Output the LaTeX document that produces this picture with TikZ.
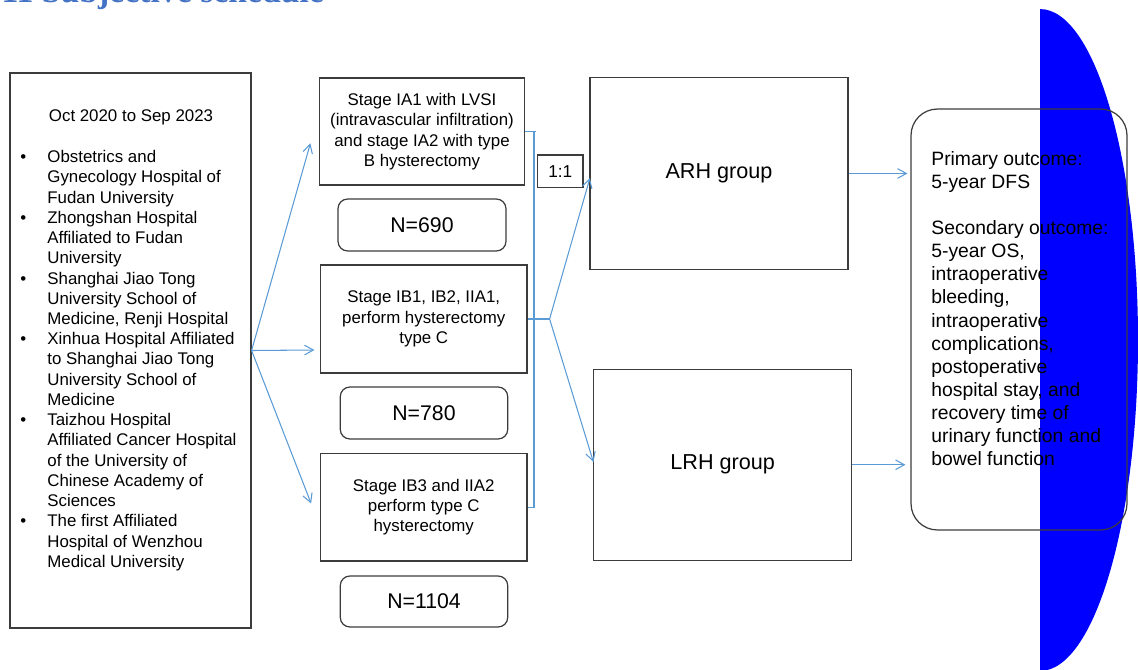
\documentclass[tikz,border=0pt]{standalone}
\usepackage{fontspec}
\setmainfont{Liberation Sans}
\newfontfamily\titlefont{Liberation Serif}
\usetikzlibrary{arrows.meta,calc}
\definecolor{arrblue}{RGB}{91,155,213}
\definecolor{boxgray}{RGB}{60,60,60}
\definecolor{titleblue}{RGB}{68,114,196}
\definecolor{pureblue}{RGB}{0,0,255}
\newcommand\mybul{\makebox[15.4pt][l]{\textbullet}}
\newcommand\myind{\hspace*{15.4pt}}
\begin{document}
\begin{tikzpicture}[x=0.02cm,y=-0.02cm,
  box/.style={draw=boxgray,line width=0.7pt,inner sep=0pt,align=center},
  stagebox/.style={box,font=\fontsize{9.6}{11.55}\selectfont},
  nbox/.style={box,rounded corners=5.5pt,font=\fontsize{12.1}{14}\selectfont},
  grpbox/.style={box,font=\fontsize{12.3}{14}\selectfont},
  bodytext/.style={inner sep=0pt,align=left,font=\fontsize{9.6}{11.52}\selectfont},
  arr/.style={draw=arrblue,line width=0.6pt,-{Straight Barb[length=5pt,width=5.5pt]}},
  link/.style={draw=arrblue,line width=0.6pt}]
\useasboundingbox (0,0) rectangle (1138,669);

% blue half ellipse at the right
\begin{scope}
  \clip (1040,0) rectangle (1138,669);
  \fill[pureblue] (1040,340) ellipse [x radius=1.96cm, y radius=6.62cm];
\end{scope}

% cut-off heading
\node[anchor=base west,inner sep=0pt,text=titleblue,
      font=\titlefont\bfseries\fontsize{19.2}{22}\selectfont] (title) at (-24,2.5) {3.11 Subjective schedule};

% left box with sites
\node[box,minimum width=4.82cm,minimum height=11.1cm] (sites) at (130.5,350.5) {};
\node[bodytext,anchor=base] (period) at (131,121) {Oct 2020 to Sep 2023};
\node[bodytext,anchor=north west] (list) at (20,150) {%
\mybul Obstetrics and\\
\myind Gynecology Hospital of\\
\myind Fudan University\\
\mybul Zhongshan Hospital\\
\myind Affiliated to Fudan\\
\myind University\\
\mybul Shanghai Jiao Tong\\
\myind University School of\\
\myind Medicine, Renji Hospital\\
\mybul Xinhua Hospital Affiliated\\
\myind to Shanghai Jiao Tong\\
\myind University School of\\
\myind Medicine\\
\mybul Taizhou Hospital\\
\myind Affiliated Cancer Hospital\\
\myind of the University of\\
\myind Chinese Academy of\\
\myind Sciences\\
\mybul The first Affiliated\\
\myind Hospital of Wenzhou\\
\myind Medical University};

% stage boxes
\node[stagebox,minimum width=4.1cm,minimum height=2.14cm] (st1) at (422,131.5)
  {Stage IA1 with LVSI\\(intravascular infiltration)\\and stage IA2 with type\\B hysterectomy};
\node[nbox,minimum width=3.36cm,minimum height=1.04cm] (n1) at (422,225) {N=690};
\node[stagebox,minimum width=4.13cm,minimum height=2.16cm] (st2) at (423.75,319)
  {Stage IB1, IB2, IIA1,\\perform hysterectomy\\type C};
\node[nbox,minimum width=3.35cm,minimum height=1.04cm] (n2) at (424,413) {N=780};
\node[stagebox,minimum width=4.13cm,minimum height=2.15cm] (st3) at (423.75,507.25)
  {Stage IB3 and IIA2\\perform type C\\hysterectomy};
\node[nbox,minimum width=3.35cm,minimum height=1.02cm] (n3) at (424,601.5) {N=1104};

% ratio and groups
\node[box,minimum width=0.906cm,minimum height=0.646cm,font=\fontsize{9.8}{12}\selectfont] (ratio) at (560.3,171.1) {1:1};
\node[grpbox,minimum width=5.16cm,minimum height=3.84cm] (arh) at (719,173.5) {ARH group};
\node[grpbox,minimum width=5.16cm,minimum height=3.82cm] (lrh) at (722.7,464.75) {LRH group};

% outcome box
\node[box,rounded corners=15pt,minimum width=4.32cm,minimum height=8.42cm] (out) at (1019,319.5) {};
\node[inner sep=0pt,align=left,anchor=north west,font=\fontsize{11}{13.15}\selectfont] (outtext) at (931,151) {%
Primary outcome:\\
5-year DFS\\[13.15pt]
Secondary outcome:\\
5-year OS,\\
intraoperative\\
bleeding,\\
intraoperative\\
complications,\\
postoperative\\
hospital stay, and\\
recovery time of\\
urinary function and\\
bowel function};

% arrows from sites to stages
\coordinate (t1) at ($(st1.west)+(-8.5,11.8)$);
\coordinate (t2) at ($(st2.west)+(-5.5,31)$);
\coordinate (t3) at ($(st3.west)+(-8.8,-3.8)$);
\draw[arr] (sites.east) -- (t1);
\draw[arr] (sites.east) -- (t2);
\draw[arr] (sites.east) -- (t3);

% bracket
\coordinate (vx) at (534,0);
\draw[link] (vx |- st1.east) -- (vx |- st3.east);
\draw[link] (st1.east) -- ($(vx |- st1.east)+(2,0)$);
\draw[link] (st3.east) -- ($(vx |- st3.east)+(1,0)$);
\coordinate (split) at ($(st2.east)+(22,0)$);
\draw[link] (st2.east) -- (split);

% randomisation arrows
\coordinate (arhin) at ($(arh.west)+(0.5,4.5)$);
\coordinate (lrhin) at ($(lrh.west)+(0.3,-2.75)$);
\draw[arr] (split) -- (arhin);
\draw[arr] (split) -- (lrhin);

% to outcome
\coordinate (o1) at ($(out.west |- arh.east)+(-3,0)$);
\coordinate (o2) at ($(out.west |- lrh.east)+(-5,0)$);
\draw[arr] (arh.east) -- (o1);
\draw[arr] (lrh.east) -- (o2);
\end{tikzpicture}
\end{document}
